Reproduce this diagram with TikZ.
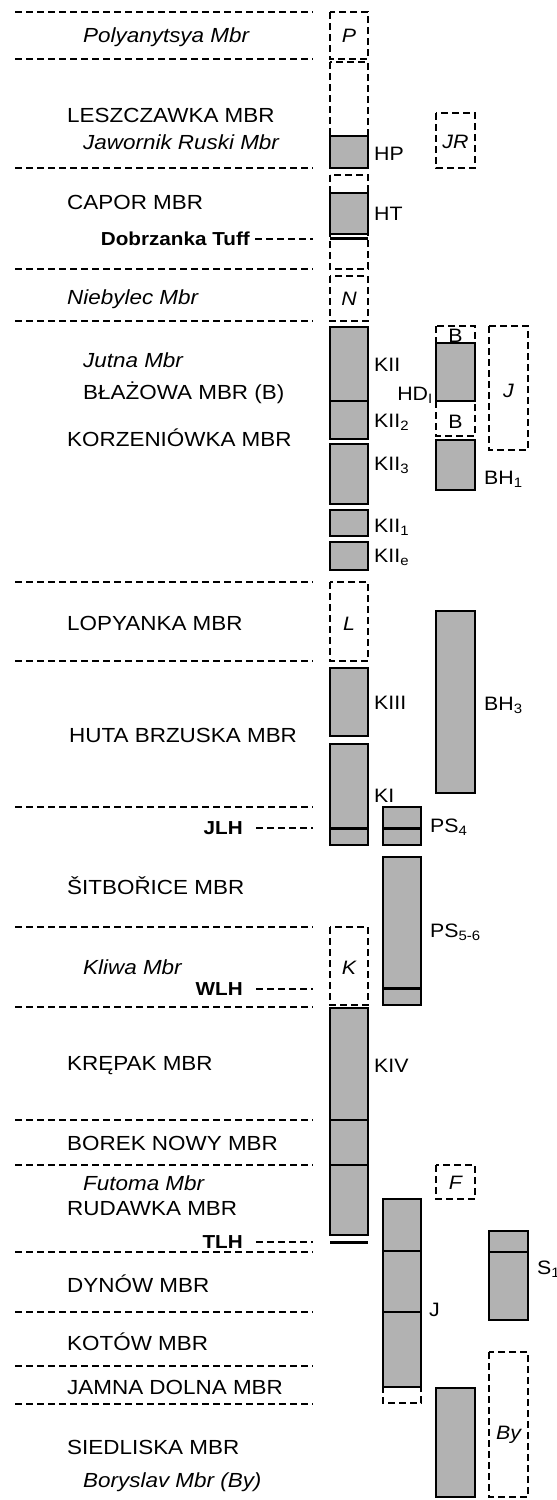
\documentclass[tikz,border=0pt]{standalone}
\usepackage{fontspec}
\setmainfont{Liberation Sans}[FakeStretch=1.1]
\begin{document}
\begin{tikzpicture}[x=1pt,y=-1pt,
  unitname/.style={anchor=west, inner sep=0pt, font=\fontsize{20.4}{24}\selectfont, text height=14.8pt, text depth=0pt},
  unitit/.style={unitname, font=\fontsize{20.4}{24}\selectfont\itshape},
  marker/.style={anchor=east, inner sep=0pt, font=\fontsize{18.8}{22}\selectfont\bfseries, text height=13.7pt, text depth=0pt},
  boxlabel/.style={anchor=west, inner sep=0pt, font=\fontsize{19.4}{22}\selectfont, text height=14pt, text depth=0pt},
  inlabel/.style={inner sep=0pt, font=\fontsize{19.4}{22}\selectfont, text height=14pt, text depth=0pt},
  inlabelit/.style={inlabel, font=\fontsize{19.4}{22}\selectfont\itshape},
  boundary/.style={line width=1.25pt, dash pattern=on 7pt off 4pt},
  lead/.style={line width=1.25pt, dash pattern=on 7pt off 4pt},
  gap/.style={draw, line width=1.25pt, dash pattern=on 7pt off 4pt},
  core/.style={draw, line width=1.25pt, fill=black!30},
  divider/.style={line width=1.25pt},
  tephra/.style={line width=3pt}
]
\useasboundingbox (0,0) rectangle (557,1500);

% ---- unit boundaries ----
\foreach \yy in {12,59,168,269,321,582,661,807,927,1007,1120,1165,1252,1312,1366,1404}
  \draw[boundary] (15,\yy) -- (313,\yy);

% ---- unit names ----
\node[unitit]   (polyanytsya) at (83,35)   {Polyanytsya Mbr};
\node[unitname] (leszczawka)  at (67,115)  {LESZCZAWKA MBR};
\node[unitit]   (jawornik)    at (83,142)  {Jawornik Ruski Mbr};
\node[unitname] (capor)       at (67,202)  {CAPOR MBR};
\node[unitit]   (niebylec)    at (67,297)  {Niebylec Mbr};
\node[unitit]   (jutna)       at (83,360)  {Jutna Mbr};
\node[unitname] (blazowa)     at (83,392)  {BŁAŻOWA MBR (B)};
\node[unitname] (korzeniowka) at (67,439)  {KORZENIÓWKA MBR};
\node[unitname] (lopyanka)    at (67,623)  {LOPYANKA MBR};
\node[unitname] (huta)        at (69,735)  {HUTA BRZUSKA MBR};
\node[unitname] (sitborice)   at (67,887)  {ŠITBOŘICE MBR};
\node[unitit]   (kliwa)       at (83,967)  {Kliwa Mbr};
\node[unitname] (krepak)      at (67,1063) {KRĘPAK MBR};
\node[unitname] (borek)       at (67,1143) {BOREK NOWY MBR};
\node[unitit]   (futoma)      at (83,1183) {Futoma Mbr};
\node[unitname] (rudawka)     at (67,1208) {RUDAWKA MBR};
\node[unitname] (dynow)       at (67,1285) {DYNÓW MBR};
\node[unitname] (kotow)       at (67,1343) {KOTÓW MBR};
\node[unitname] (jamna)       at (67,1387) {JAMNA DOLNA MBR};
\node[unitname] (siedliska)   at (67,1447) {SIEDLISKA MBR};
\node[unitit]   (boryslav)    at (83,1480) {Boryslav Mbr (By)};

% ---- marker horizons ----
\node[marker] (dobrzanka) at (250,239)  {Dobrzanka Tuff};
\node[marker] (jlh)       at (243,828)  {JLH};
\node[marker] (wlh)       at (243,989)  {WLH};
\node[marker] (tlh)       at (243,1242) {TLH};
\coordinate (dobrzankaend) at (313,239);
\coordinate (jlhend) at (313,828);
\coordinate (wlhend) at (313,989);
\coordinate (tlhend) at (313,1242);
\draw[lead] ([xshift=5pt]dobrzanka.east) -- (dobrzankaend);
\draw[lead] ([xshift=13pt]jlh.east) -- (jlhend);
\draw[lead] ([xshift=13pt]wlh.east) -- (wlhend);
\draw[lead] ([xshift=13pt]tlh.east) -- (tlhend);

% ---- column 1 ----
\draw[gap] (330,12) rectangle (368,59);
\node[inlabelit] (colP) at (349,35) {P};
\draw[gap] (330,62) rectangle (368,168);
\draw[core] (330,136) rectangle (368,168);
\node[boxlabel] (hp) at (374,153) {HP};
\draw[gap] (330,175) rectangle (368,269);
\draw[core] (330,193) rectangle (368,234);
\draw[tephra] (330,238.5) -- (368,238.5);
\node[boxlabel] (ht) at (374,213) {HT};
\draw[gap] (330,276) rectangle (368,321);
\node[inlabelit] (colN) at (349,298) {N};
\draw[core] (330,327) rectangle (368,401);
\draw[core] (330,401) rectangle (368,439);
\draw[core] (330,444) rectangle (368,504);
\draw[core] (330,510) rectangle (368,536);
\draw[core] (330,542) rectangle (368,570);
\node[boxlabel] (kii)  at (374,364) {KII};
\node[boxlabel] (kii2) at (374,420) {KII\textsubscript{2}};
\node[boxlabel] (kii3) at (374,463) {KII\textsubscript{3}};
\node[boxlabel] (kii1) at (374,525) {KII\textsubscript{1}};
\node[boxlabel] (kiie) at (374,555) {KII\textsubscript{e}};
\draw[gap] (330,582) rectangle (368,661);
\node[inlabelit] (colL) at (349,623) {L};
\draw[core] (330,668) rectangle (368,736);
\node[boxlabel] (kiii) at (374,702) {KIII};
\draw[core] (330,744) rectangle (368,845);
\draw[tephra] (330,828) -- (368,828);
\node[boxlabel] (ki) at (374,795) {KI};
\draw[gap] (330,927) rectangle (368,1005);
\node[inlabelit] (colK) at (349,967) {K};
\draw[core] (330,1008) rectangle (368,1235);
\draw[divider] (330,1120) -- (368,1120) (330,1165) -- (368,1165);
\draw[tephra] (330,1242) -- (368,1242);
\node[boxlabel] (kiv) at (374,1065) {KIV};

% ---- column 2 ----
\draw[core] (383,807) rectangle (421,845);
\draw[tephra] (383,828) -- (421,828);
\node[boxlabel] (ps4) at (430,825) {PS\textsubscript{4}};
\draw[core] (383,857) rectangle (421,1005);
\draw[tephra] (383,988) -- (421,988);
\node[boxlabel] (ps56) at (430,930) {PS\textsubscript{5-6}};
\draw[gap] (383,1199) rectangle (421,1403);
\draw[core] (383,1199) rectangle (421,1387);
\draw[divider] (383,1251) -- (421,1251) (383,1312) -- (421,1312);
\node[boxlabel] (jcol) at (429,1309) {J};

% ---- column 3 ----
\draw[gap] (436,113) rectangle (475,168);
\node[inlabelit] (colJR) at (455.5,141) {JR};
\draw[gap] (436,326) rectangle (475,401);
\draw[core] (436,343) rectangle (475,401);
\node[inlabel] (btop) at (455.5,335) {B};
\node[inlabel, anchor=east] (hd) at (433,393) {HD\textsubscript{I}};
\draw[gap] (436,401) rectangle (475,436);
\node[inlabel] (bmid) at (455.5,421) {B};
\draw[core] (436,440) rectangle (475,490);
\node[boxlabel] (bh1) at (484,477) {BH\textsubscript{1}};
\draw[core] (436,611) rectangle (475,793);
\node[boxlabel] (bh3) at (484,703) {BH\textsubscript{3}};
\draw[gap] (436,1165) rectangle (475,1199);
\node[inlabelit] (colF) at (455.5,1182) {F};
\draw[core] (436,1388) rectangle (475,1497);

% ---- column 4 ----
\draw[gap] (489,326) rectangle (528,450);
\node[inlabelit] (colJ) at (508.5,390) {J};
\draw[core] (489,1231) rectangle (528,1320);
\draw[divider] (489,1252) -- (528,1252);
\node[boxlabel] (s1) at (537,1267) {S\textsubscript{1}};
\draw[gap] (489,1352) rectangle (528,1497);
\node[inlabelit] (colBy) at (508.5,1432) {By};
\end{tikzpicture}
\end{document}
